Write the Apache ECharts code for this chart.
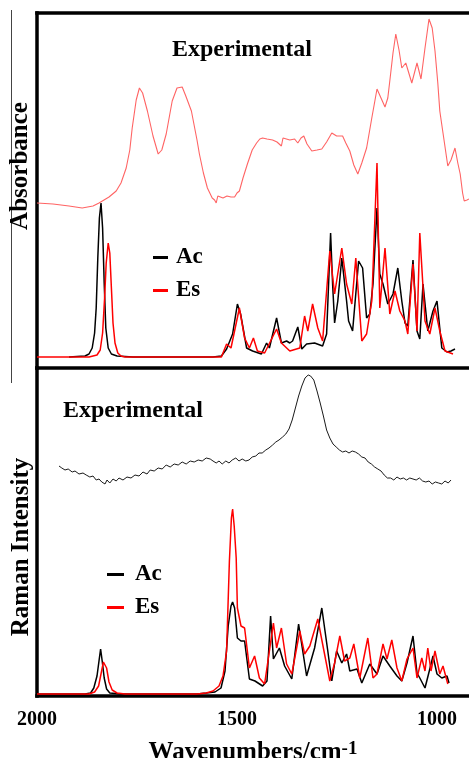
<!DOCTYPE html>
<html>
<head>
<meta charset="utf-8">
<script src="https://cdn.jsdelivr.net/npm/echarts@6/dist/echarts.min.js"></script>
<style>
  html, body { margin: 0; padding: 0; background: #fff; }
  #chart { width: 469px; height: 758px; }
</style>
</head>
<body>
<div id="chart"></div>
<script>
// wavenumber (cm-1), intensity in arbitrary units
const xTicks = [2000, 1500, 1000];

const irExp = [
  [2000,165],[1960,164],[1920,162],[1887,160],[1860,162],[1845,165],[1820,171],[1802,177],[1790,185],
  [1777,200],[1768,218],[1762,240],[1752,268],[1744,280],[1736,275],[1724,257],[1710,232],[1697,214],
  [1688,218],[1677,234],[1662,267],[1650,280],[1637,281],[1628,272],[1614,257],[1600,228],[1594,214],
  [1584,195],[1574,180],[1562,170],[1556,168],[1552,165],[1548,172],[1544,173],[1535,170],[1525,172],
  [1515,171],[1506,171],[1500,175],[1494,177],[1485,190],[1474,204],[1462,218],[1451,225],[1443,229],
  [1436,230],[1425,229],[1411,228],[1400,226],[1389,222],[1385,230],[1381,230],[1368,228],[1356,229],
  [1348,225],[1340,230],[1333,232],[1325,224],[1313,217],[1300,218],[1288,219],[1276,226],[1263,235],
  [1251,232],[1236,232],[1228,225],[1218,217],[1208,203],[1198,194],[1188,205],[1176,220],[1163,250],
  [1150,279],[1140,270],[1130,261],[1123,270],[1118,287],[1110,315],[1103,334],[1095,318],[1088,300],
  [1078,305],[1063,285],[1050,305],[1040,289],[1030,320],[1020,349],[1012,340],[1005,317],[998,285],
  [993,257],[985,235],[973,202],[965,208],[955,220],[948,205],[942,194],[936,175],[932,167],[925,168],[920,169]
];

const irAc = [
  [1920,11],[1880,12],[1870,14],[1862,20],[1856,35],[1852,60],[1848,110],[1844,150],[1840,165],
  [1836,140],[1832,85],[1828,40],[1822,20],[1814,14],[1800,12],[1760,11],[1560,11],[1539,12],
  [1526,19],[1511,34],[1499,64],[1491,54],[1476,20],[1461,17],[1439,14],[1426,25],[1419,20],
  [1401,50],[1389,25],[1376,27],[1368,25],[1361,27],[1348,41],[1338,19],[1326,24],[1306,25],
  [1286,22],[1276,34],[1266,135],[1261,84],[1256,45],[1248,67],[1238,110],[1226,67],[1221,47],
  [1211,37],[1196,107],[1186,100],[1176,50],[1168,54],[1160,84],[1150,160],[1143,94],[1135,84],
  [1123,64],[1110,74],[1098,100],[1088,67],[1080,45],[1073,42],[1060,108],[1050,37],[1043,29],
  [1035,84],[1023,37],[1010,57],[1000,67],[988,20],[975,16],[965,17],[955,19]
];

const irEs = [
  [2000,11],[1870,11],[1850,13],[1842,18],[1836,35],[1831,70],[1827,105],[1822,125],[1818,115],
  [1814,80],[1810,45],[1805,25],[1798,15],[1790,12],[1780,11],[1560,11],[1539,11],[1526,24],
  [1515,20],[1494,60],[1481,30],[1469,20],[1459,30],[1449,17],[1431,15],[1401,39],[1389,25],
  [1368,17],[1343,20],[1331,52],[1323,37],[1311,64],[1298,40],[1286,27],[1268,117],[1256,74],
  [1238,120],[1226,84],[1213,64],[1203,110],[1188,27],[1176,34],[1163,67],[1150,205],[1143,60],
  [1130,120],[1118,54],[1105,77],[1093,57],[1080,47],[1073,34],[1060,104],[1050,37],[1043,135],
  [1030,47],[1018,34],[1005,60],[993,37],[980,17],[960,14]
];

const ramanExp = [
  [1945,230],[1938,228],[1930,226],[1922,227],[1912,224],[1905,225],[1895,222],[1885,223],[1877,221],
  [1868,219],[1860,220],[1852,216],[1845,217],[1838,214],[1830,212],[1825,216],[1818,213],[1810,217],
  [1802,215],[1795,218],[1785,216],[1775,219],[1765,218],[1755,221],[1745,220],[1735,224],[1725,222],
  [1717,226],[1707,225],[1697,228],[1687,227],[1677,231],[1667,229],[1657,232],[1647,231],[1637,234],
  [1627,232],[1617,235],[1607,234],[1597,236],[1587,235],[1577,238],[1567,237],[1560,235],[1552,233],
  [1545,235],[1537,232],[1528,235],[1520,233],[1512,236],[1503,238],[1495,235],[1487,237],[1478,235],
  [1470,236],[1462,239],[1453,240],[1445,243],[1437,243],[1428,246],[1420,248],[1411,251],[1403,254],
  [1395,256],[1386,259],[1378,262],[1370,267],[1362,276],[1354,288],[1346,300],[1338,310],[1330,318],
  [1322,321],[1316,320],[1308,316],[1300,305],[1292,293],[1284,280],[1276,266],[1268,258],[1260,252],
  [1252,249],[1244,246],[1236,244],[1228,245],[1220,243],[1212,245],[1204,244],[1196,242],[1188,239],
  [1180,238],[1172,234],[1164,232],[1156,229],[1148,227],[1140,225],[1132,221],[1124,218],[1116,218],
  [1108,216],[1100,219],[1092,217],[1084,218],[1076,216],[1068,218],[1060,217],[1052,216],[1044,218],
  [1036,215],[1028,214],[1020,215],[1012,212],[1004,214],[996,213],[988,212],[980,215],[972,213],[965,216]
];

const ramanAc = [
  [2000,2],[1880,2],[1866,3],[1858,8],[1850,20],[1845,35],[1841,47],[1837,35],[1832,18],[1826,7],
  [1818,3],[1790,2],[1600,2],[1577,3],[1555,4],[1540,8],[1530,25],[1522,70],[1515,90],[1511,94],
  [1506,88],[1499,58],[1490,55],[1481,55],[1469,17],[1455,15],[1436,10],[1425,15],[1416,80],[1409,37],
  [1394,48],[1381,30],[1363,17],[1346,72],[1326,20],[1306,48],[1288,88],[1273,45],[1263,15],[1251,45],
  [1238,33],[1226,42],[1218,25],[1200,27],[1188,13],[1168,32],[1150,22],[1135,40],[1118,30],[1100,20],
  [1088,15],[1075,33],[1060,60],[1050,23],[1043,18],[1030,8],[1018,27],[1010,40],[1000,22],[988,18],
  [975,20],[970,13]
];

const ramanEs = [
  [2000,2],[1870,2],[1856,4],[1846,10],[1840,22],[1834,34],[1830,36],[1826,28],[1820,14],[1812,6],
  [1800,3],[1780,2],[1600,2],[1577,3],[1560,5],[1545,10],[1535,20],[1526,45],[1519,135],[1514,178],
  [1511,187],[1507,170],[1502,138],[1499,88],[1490,70],[1481,68],[1469,28],[1456,40],[1444,18],
  [1431,12],[1419,45],[1409,73],[1401,48],[1389,68],[1376,32],[1363,22],[1343,65],[1331,42],[1318,50],
  [1298,77],[1286,52],[1268,15],[1256,33],[1243,60],[1231,35],[1218,38],[1208,52],[1193,18],[1173,58],
  [1160,18],[1150,22],[1135,52],[1125,37],[1113,56],[1100,28],[1088,15],[1075,37],[1060,48],[1050,18],
  [1038,38],[1030,25],[1023,48],[1015,25],[1005,45],[993,22],[985,30],[973,12]
];

const SERIF = '"Liberation Serif", "Times New Roman", serif';
const AXIS_LINE = { show: true, lineStyle: { color: '#000', width: 3.5, cap: 'square' } };

const chart = echarts.init(document.getElementById('chart'));

function xAxis(gridIndex, position, extra) {
  return Object.assign({
    gridIndex, position, type: 'value', min: 920, max: 2000, inverse: true,
    axisLine: AXIS_LINE, axisTick: { show: false }, axisLabel: { show: false },
    splitLine: { show: false }
  }, extra || {});
}

function yAxis(gridIndex, max) {
  return {
    gridIndex, type: 'value', min: 0, max,
    axisLine: AXIS_LINE, axisTick: { show: false }, axisLabel: { show: false },
    splitLine: { show: false }
  };
}

function line(name, data, xi, yi, color, width) {
  return {
    name, type: 'line', data, xAxisIndex: xi, yAxisIndex: yi,
    color, symbol: 'none', lineStyle: { color, width }, z: 3
  };
}

const legendText = { fontFamily: SERIF, fontWeight: 'bold', fontSize: 23, color: '#000' };

chart.setOption({
  animation: false,
  backgroundColor: '#fff',
  grid: [
    { left: 37, right: 0, top: 13, height: 355, outerBoundsMode: 'none' },
    { left: 37, right: 0, top: 368, height: 328, outerBoundsMode: 'none' }
  ],
  xAxis: [
    xAxis(0, 'bottom'),
    xAxis(0, 'top'),
    xAxis(1, 'bottom', {
      axisLabel: {
        show: true, customValues: xTicks, margin: 14,
        formatter: v => String(v),
        fontFamily: SERIF, fontWeight: 'bold', fontSize: 20, color: '#000'
      },
      name: '{a|Wavenumbers/cm}{s|-1}',
      nameLocation: 'middle',
      nameGap: 44,
      nameTextStyle: {
        rich: {
          a: { fontFamily: SERIF, fontWeight: 'bold', fontSize: 25, color: '#000' },
          s: { fontFamily: SERIF, fontWeight: 'bold', fontSize: 19, color: '#000', verticalAlign: 'top' }
        }
      }
    })
  ],
  yAxis: [yAxis(0, 355), yAxis(1, 328)],
  title: [
    { text: 'Experimental', left: 172, top: 38, padding: 0,
      textStyle: { fontFamily: SERIF, fontWeight: 'bold', fontSize: 24, color: '#000' } },
    { text: 'Experimental', left: 63, top: 399, padding: 0,
      textStyle: { fontFamily: SERIF, fontWeight: 'bold', fontSize: 24, color: '#000' } }
  ],
  legend: [
    { data: ['Ac', 'Es'], orient: 'vertical', left: 153, top: 246, padding: 0,
      icon: 'rect', itemWidth: 15, itemHeight: 3, itemGap: 10,
      textStyle: Object.assign({ padding: [0, 0, 9, 3] }, legendText) },
    { data: ['Ac', 'Es'], orient: 'vertical', left: 107, top: 563, padding: 0,
      icon: 'rect', itemWidth: 17, itemHeight: 3, itemGap: 10,
      textStyle: Object.assign({ padding: [0, 0, 4, 6] }, legendText) }
  ],
  graphic: [
    { type: 'line', shape: { x1: 11.5, y1: 10, x2: 11.5, y2: 383 },
      style: { stroke: '#444', lineWidth: 1 } },
    { type: 'text', x: 21, y: 166, rotation: Math.PI / 2,
      style: { text: 'Absorbance', font: 'bold 25px ' + SERIF, fill: '#000',
               textAlign: 'center', textVerticalAlign: 'middle' } },
    { type: 'text', x: 22, y: 547, rotation: Math.PI / 2,
      style: { text: 'Raman Intensity', font: 'bold 25px ' + SERIF, fill: '#000',
               textAlign: 'center', textVerticalAlign: 'middle' } }
  ],
  series: [
    line('Experimental IR', irExp, 0, 0, '#ff6464', 1.1),
    line('Ac', irAc, 0, 0, '#000', 1.5),
    line('Es', irEs, 0, 0, '#ff0000', 1.5),
    line('Experimental Raman', ramanExp, 2, 1, '#1a1a1a', 1),
    line('Ac', ramanAc, 2, 1, '#000', 1.5),
    line('Es', ramanEs, 2, 1, '#ff0000', 1.5)
  ]
});
</script>
</body>
</html>
